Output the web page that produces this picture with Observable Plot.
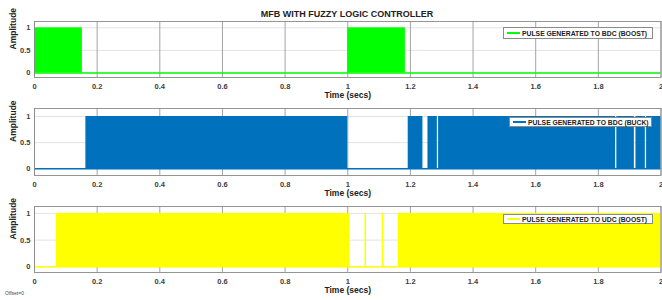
<!DOCTYPE html>
<html><head><meta charset="utf-8">
<script src="https://cdn.jsdelivr.net/npm/d3@7"></script>
<script src="https://cdn.jsdelivr.net/npm/@observablehq/plot@0.6"></script>
<style>
body{margin:0;background:#fff;font-family:"Liberation Sans",Arial,sans-serif;}
#wrap{position:relative;width:662px;height:300px;overflow:hidden;background:#fff;}
#title{position:absolute;left:34px;width:626px;top:9px;text-align:center;font-weight:bold;font-size:9px;color:#222;line-height:10px;}
.panel{position:absolute;left:0;overflow:visible;}
.legend{position:absolute;background:#fff;border:0.8px solid #8a8a8a;display:flex;align-items:center;box-sizing:border-box;font-weight:bold;font-size:6.8px;color:#222;white-space:nowrap;}
.legend .sw{display:inline-block;width:13px;height:1.2px;margin:0 2px 0 3px;}
#offset{position:absolute;left:5px;top:290px;font-size:5px;color:#444;}
</style></head><body>
<div id="wrap">
  <div id="title">MFB WITH FUZZY LOGIC CONTROLLER</div>
  <div id="offset">Offset=0</div>
</div>
<script>
// ---- data (time in seconds) ----
const xTicks = [0, 0.2, 0.4, 0.6, 0.8, 1, 1.2, 1.4, 1.6, 1.8, 2];
const yTicks = [0, 0.5, 1];

// Panel 1: pulse generated to BDC (boost) – PWM bursts (start / end)
const bdcBoostStart = [0, 1.0];
const bdcBoostEnd   = [0.153, 1.184];

// Panel 2: pulse generated to BDC (buck)
const bdcBuckStart = [0.164, 1.193, 1.256, 1.290, 1.859, 1.920, 1.954];
const bdcBuckEnd   = [1.0,   1.240, 1.286, 1.855, 1.915, 1.950, 2.0];

// Panel 3: pulse generated to UDC (boost)
const udcBoostStart = [0.070, 1.055, 1.110, 1.161];
const udcBoostEnd   = [1.007, 1.060, 1.115, 2.0];

const legendLabels = ["PULSE GENERATED TO BDC (BOOST)", "PULSE GENERATED TO BDC (BUCK)", "PULSE GENERATED TO UDC (BOOST)"];
const colors = ["#00ff00", "#0072bd", "#ffff00"];

const panels = [
  {starts: bdcBoostStart, ends: bdcBoostEnd, top: 15, boxH: 56, yDomain: [-0.1, 1.14], legend: {left: 503, top: 27, w: 150, h: 12}},
  {starts: bdcBuckStart, ends: bdcBuckEnd, top: 102, boxH: 67, yDomain: [-0.128, 1.153], legend: {left: 509, top: 117, w: 143, h: 10}},
  {starts: udcBoostStart, ends: udcBoostEnd, top: 200, boxH: 66, yDomain: [-0.107, 1.13], legend: {left: 503, top: 214, w: 150, h: 10}}
];

const wrap = document.getElementById("wrap");
const fmt = d => String(+d.toFixed(1));

panels.forEach((p, i) => {
  const bursts = p.starts.map((s, k) => ({start: s, end: p.ends[k]}));
  const chart = Plot.plot({
    width: 662,
    height: 6 + p.boxH + 26,
    marginTop: 6,
    marginBottom: 26,
    marginLeft: 34,
    marginRight: 1.5,
    x: {domain: [0, 2]},
    y: {domain: p.yDomain},
    style: {background: "transparent", fontFamily: "Liberation Sans, Arial, sans-serif", overflow: "visible"},
    marks: [
      Plot.ruleY(yTicks, {stroke: "#dcdcdc", strokeWidth: 0.8}),
      Plot.ruleX(xTicks, {stroke: "#8c8c8c", strokeWidth: 0.8}),
      Plot.ruleY([0], {stroke: colors[i], strokeWidth: 1.5}),
      Plot.rect(bursts, {x1: "start", x2: "end", y1: 0, y2: 1, fill: colors[i]}),
      Plot.frame({stroke: "#8a8a8a", strokeWidth: 0.9}),
      Plot.axisX(xTicks, {tickSize: 0, tickPadding: 6, tickFormat: fmt, fontSize: 7.5, fontWeight: "bold", fill: "#404040", label: null}),
      Plot.axisY(yTicks, {tickSize: 0, tickPadding: 4, tickFormat: fmt, fontSize: 7.5, fontWeight: "bold", fill: "#404040", label: null}),
      Plot.text(["Time (secs)"], {frameAnchor: "bottom", dy: 20, text: d => d, fontSize: 8.5, fontWeight: "bold", fill: "#222"}),
      Plot.text(["Amplitude"], {frameAnchor: "left", dx: -21, rotate: -90, text: d => d, fontSize: 8.5, fontWeight: "bold", fill: "#222"})
    ]
  });
  chart.classList.add("panel");
  chart.style.top = p.top + "px";
  wrap.appendChild(chart);

  const lg = document.createElement("div");
  lg.className = "legend";
  lg.style.left = p.legend.left + "px";
  lg.style.top = p.legend.top + "px";
  lg.style.width = p.legend.w + "px";
  lg.style.height = p.legend.h + "px";
  const sw = document.createElement("span");
  sw.className = "sw";
  sw.style.background = colors[i];
  lg.appendChild(sw);
  const tx = document.createElement("span");
  tx.textContent = legendLabels[i];
  lg.appendChild(tx);
  wrap.appendChild(lg);
});
</script>
</body></html>
